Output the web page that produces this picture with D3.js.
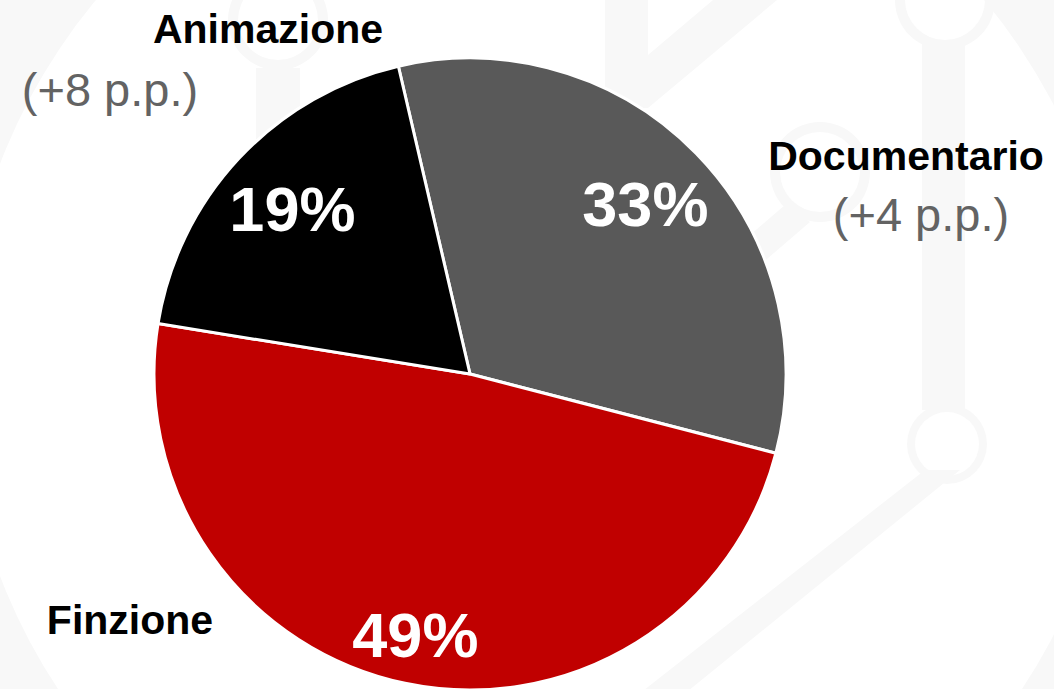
<!DOCTYPE html>
<html>
<head>
<meta charset="utf-8">
<script src="https://cdn.jsdelivr.net/npm/d3@7"></script>
<style>
html,body{margin:0;padding:0;background:#fff;overflow:hidden}
svg{display:block}
text{font-family:Arial,"Liberation Sans",sans-serif}
</style>
</head>
<body>
<svg id="chart" width="1054" height="689"></svg>
<script>
// ---- data ----
const categories = ["Documentario", "Finzione", "Animazione"];
const shares = [33, 49, 19];              // % share
const changes = ["(+4 p.p.)", null, "(+8 p.p.)"]; // change vs previous period
const colors = ["#595959", "#C00000", "#000000"];

const W = 1054, H = 689;
const svg = d3.select("#chart");

// ---- faint background decoration ----
const deco = svg.append("g").attr("fill", "#f8f8f8").attr("stroke", "none");
// big ring on the left
deco.append("path")
  .attr("transform", "translate(540,370)")
  .attr("d", d3.arc()({innerRadius: 578, outerRadius: 700, startAngle: 0, endAngle: 2 * Math.PI}));
// vertical bar on the right
deco.append("rect").attr("x", 922).attr("y", 40).attr("width", 43).attr("height", 370);
// diagonal bar lower right
deco.append("path").attr("d", "M925,470 L960,470 L560,795 L510,795 Z");
// rings
[[945, 0, 50, 40], [947, 444, 40, 32], [820, 172, 50, 40], [278, 20, 50, 40]].forEach(([x, y, ro, ri]) => {
  deco.append("path").attr("transform", `translate(${x},${y})`)
    .attr("d", d3.arc()({innerRadius: ri, outerRadius: ro, startAngle: 0, endAngle: 2 * Math.PI}));
});
// bar under the top-left ring
deco.append("rect").attr("x", 256).attr("y", 68).attr("width", 44).attr("height", 100);
// V shape near top
deco.append("path").attr("d", "M605,0 L648,0 L648,55 L713,0 L777,0 L648,108 L605,108 Z");
// diagonal from documentario ring
deco.append("path").attr("d", "M785,205 L810,222 L760,265 L735,248 Z");

// ---- pie ----
const cx = 470, cy = 374, R = 316;
const start = -13.1 * Math.PI / 180;
const pie = d3.pie().sort(null).value(d => d)
  .startAngle(start).endAngle(start + 2 * Math.PI);
const arcs = pie(shares);
const arc = d3.arc().innerRadius(0).outerRadius(R);

const g = svg.append("g").attr("transform", `translate(${cx},${cy})`);
g.selectAll("path.slice").data(arcs).join("path")
  .attr("class", "slice")
  .attr("d", arc)
  .attr("fill", (d, i) => colors[i])
  .attr("stroke", "#fff")
  .attr("stroke-width", 3)
  .attr("stroke-linejoin", "round");

// percentage labels inside slices
const labelR = [245, 266, 243];
g.selectAll("text.pct").data(arcs).join("text")
  .attr("class", "pct")
  .attr("transform", (d, i) => {
    const c = d3.arc().innerRadius(labelR[i]).outerRadius(labelR[i]).centroid(d);
    return `translate(${c[0]},${c[1]})`;
  })
  .attr("text-anchor", "middle")
  .attr("dy", "0.36em")
  .attr("fill", "#fff")
  .attr("font-weight", "bold")
  .attr("font-size", 63)
  .text(d => d.data + "%");

// category labels (outside)
const catPos = [
  {x: 906, y: 170, px: 921, py: 231},
  {x: 130, y: 634},
  {x: 268, y: 43, px: 110, py: 106}
];
categories.forEach((c, i) => {
  const p = catPos[i];
  svg.append("text")
    .attr("x", p.x).attr("y", p.y)
    .attr("text-anchor", "middle")
    .attr("font-weight", "bold")
    .attr("font-size", 41)
    .attr("fill", "#000")
    .text(c);
  if (changes[i]) {
    svg.append("text")
      .attr("x", p.px).attr("y", p.py)
      .attr("text-anchor", "middle")
      .attr("font-size", 47)
      .attr("fill", "#636363")
      .text(changes[i]);
  }
});
</script>
</body>
</html>
